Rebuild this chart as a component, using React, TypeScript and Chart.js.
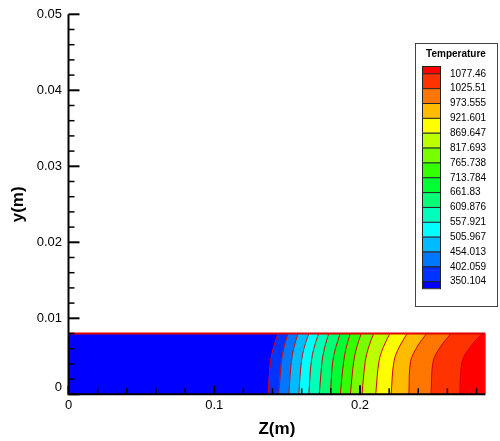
import React, { useEffect, useRef } from 'react';
import { Chart, registerables } from 'chart.js';

Chart.register(...registerables);

// ---------- data ----------
const levelLabels = ['350.104', '402.059', '454.013', '505.967', '557.921', '609.876', '661.83', '713.784', '765.738', '817.693', '869.647', '921.601', '973.555', '1025.51', '1077.46'];
const bandColors = ['#0000ff', '#0033ff', '#0077ff', '#00bbff', '#00ffff', '#00ffbb', '#00ff77', '#00ff33', '#33ff00', '#77ff00', '#bbff00', '#ffff00', '#ffbb00', '#ff7700', '#ff3300', '#ff0000'];
// heights (m) at which the isotherm positions were read
const sampleHeights = [0, 0.0043, 0.0062, 0.008];
// z position (m) of each isotherm (one per level) at each sample height
const zAtBottom = [0.1370, 0.1443, 0.1512, 0.1580, 0.1649, 0.1721, 0.1797, 0.1865, 0.1934, 0.2014, 0.2108, 0.2214, 0.2336, 0.2488, 0.2685];
const zAtLower = [0.1386, 0.1461, 0.1529, 0.1598, 0.1666, 0.1740, 0.1813, 0.1888, 0.1957, 0.2036, 0.2130, 0.2233, 0.2347, 0.2502, 0.2701];
const zAtUpper = [0.1407, 0.1479, 0.1547, 0.1618, 0.1686, 0.1758, 0.1834, 0.1906, 0.1978, 0.2059, 0.2160, 0.2269, 0.2391, 0.2551, 0.2756];
const zAtTop = [0.1438, 0.1507, 0.1575, 0.1649, 0.1717, 0.1786, 0.1865, 0.1934, 0.2009, 0.2094, 0.2205, 0.2324, 0.2457, 0.2625, 0.2838];
const stripHeight = 0.008;
const zMax = 0.286;
const yMax = 0.05;
const xTickValues = [0, 0.1, 0.2];
const xTickLabels = ['0', '0.1', '0.2'];
const yTickValues = [0, 0.01, 0.02, 0.03, 0.04, 0.05];
const yTickLabels = ['0', '0.01', '0.02', '0.03', '0.04', '0.05'];
const xMinorStep = 0.02;
const yMinorStep = 0.002;

const FONT = "'Liberation Sans', Arial, sans-serif";
const LINE_RED = '#d80000';

const zColumns = [zAtBottom, zAtLower, zAtUpper, zAtTop];

function traceForward(ctx: CanvasRenderingContext2D, pts: any[]) {
  ctx.lineTo(pts[0].x, pts[0].y);
  for (let k = 1; k < pts.length; k++) {
    const p = pts[k - 1];
    const c = pts[k];
    if (p.cp2x !== undefined && c.cp1x !== undefined) {
      ctx.bezierCurveTo(p.cp2x, p.cp2y, c.cp1x, c.cp1y, c.x, c.y);
    } else ctx.lineTo(c.x, c.y);
  }
}
function traceBackward(ctx: CanvasRenderingContext2D, pts: any[]) {
  const n = pts.length;
  ctx.lineTo(pts[n - 1].x, pts[n - 1].y);
  for (let k = n - 1; k > 0; k--) {
    const c = pts[k];
    const p = pts[k - 1];
    if (p.cp2x !== undefined && c.cp1x !== undefined) {
      ctx.bezierCurveTo(c.cp1x, c.cp1y, p.cp2x, p.cp2y, p.x, p.y);
    } else ctx.lineTo(p.x, p.y);
  }
}

const bandPlugin = {
  id: 'bands',
  beforeDatasetsDraw(chart: any) {
    const { ctx, chartArea } = chart;
    const xs = chart.scales.x;
    const ys = chart.scales.y;
    const lines: any[][] = [];
    for (let i = 0; i < levelLabels.length; i++) {
      const meta = chart.getDatasetMeta(i);
      if (meta.dataset && meta.dataset.updateControlPoints) meta.dataset.updateControlPoints(chartArea, meta.axis || 'x');
      lines.push(meta.data);
    }
    const x0 = xs.getPixelForValue(0);
    const x1 = xs.getPixelForValue(zMax);
    const yb = ys.getPixelForValue(0);
    const yt = ys.getPixelForValue(stripHeight);
    ctx.save();
    for (let j = 0; j < bandColors.length; j++) {
      ctx.beginPath();
      if (j === 0) {
        ctx.moveTo(x0, yb);
        ctx.lineTo(x0, yt);
        traceBackward(ctx, lines[0]);
      } else if (j === bandColors.length - 1) {
        const l = lines[j - 1];
        ctx.moveTo(l[0].x, l[0].y);
        traceForward(ctx, l);
        ctx.lineTo(x1, yt);
        ctx.lineTo(x1, yb);
      } else {
        const a = lines[j - 1];
        const b = lines[j];
        ctx.moveTo(a[0].x, a[0].y);
        traceForward(ctx, a);
        traceBackward(ctx, b);
      }
      ctx.closePath();
      ctx.fillStyle = bandColors[j];
      ctx.fill();
      ctx.strokeStyle = bandColors[j];
      ctx.lineWidth = 0.6;
      ctx.stroke();
    }
    ctx.restore();
  },
  afterDatasetsDraw(chart: any) {
    const { ctx } = chart;
    const xs = chart.scales.x;
    const ys = chart.scales.y;
    const ax = xs.getPixelForValue(0);
    const ay = ys.getPixelForValue(0);
    ctx.save();
    ctx.strokeStyle = '#000';
    ctx.lineCap = 'butt';
    // y ticks (inward)
    const nY = Math.round(yMax / yMinorStep);
    for (let k = 0; k <= nY; k++) {
      const v = k * yMinorStep;
      const major = yTickValues.some((t) => Math.abs(t - v) < 1e-9);
      const py = ys.getPixelForValue(v);
      ctx.lineWidth = major ? 2 : 1.5;
      ctx.beginPath();
      ctx.moveTo(ax, py);
      ctx.lineTo(ax + (major ? 11 : 6), py);
      ctx.stroke();
    }
    // x ticks (inward)
    const nX = Math.floor(zMax / xMinorStep + 1e-9);
    for (let k = 0; k <= nX; k++) {
      const v = k * xMinorStep;
      const major = xTickValues.some((t) => Math.abs(t - v) < 1e-9);
      const px = xs.getPixelForValue(v);
      ctx.lineWidth = major ? 2 : 1.5;
      ctx.beginPath();
      ctx.moveTo(px, ay);
      ctx.lineTo(px, ay - (major ? 9 : 6));
      ctx.stroke();
    }
    // axis lines
    ctx.lineWidth = 2;
    ctx.beginPath();
    ctx.moveTo(ax, ys.getPixelForValue(yMax));
    ctx.lineTo(ax, ay);
    ctx.lineTo(xs.getPixelForValue(zMax), ay);
    ctx.stroke();
    // y "0" label sits a little above the axis
    ctx.fillStyle = '#000';
    ctx.font = `13px ${FONT}`;
    ctx.textAlign = 'right';
    ctx.textBaseline = 'middle';
    ctx.fillText(yTickLabels[0], ax - 6.5, ay - 7);
    ctx.restore();
  },
  afterDraw(chart: any) {
    const { ctx } = chart;
    ctx.save();
    // legend box
    ctx.strokeStyle = '#444';
    ctx.lineWidth = 1;
    ctx.strokeRect(415.5, 43.5, 82, 263);
    ctx.fillStyle = '#000';
    ctx.font = `bold 10px ${FONT}`;
    ctx.textAlign = 'center';
    ctx.textBaseline = 'middle';
    ctx.fillText('Temperature', 456, 54);
    // swatches
    const sx = 422;
    const sw = 18;
    const top = 66;
    const firstH = 7.3;
    const step = 14.85;
    const n = bandColors.length;
    const boundaries: number[] = [];
    for (let k = 0; k < levelLabels.length; k++) boundaries.push(top + firstH + k * step);
    const bottom = boundaries[boundaries.length - 1] + 7;
    for (let j = 0; j < n; j++) {
      // j = 0 is top (highest band)
      const y0 = j === 0 ? top : boundaries[j - 1];
      const y1 = j === n - 1 ? bottom : boundaries[j];
      ctx.fillStyle = bandColors[n - 1 - j];
      ctx.fillRect(sx, y0, sw, y1 - y0);
      ctx.strokeStyle = '#222';
      ctx.strokeRect(sx + 0.5, y0 + 0.5, sw, y1 - y0);
    }
    ctx.fillStyle = '#000';
    ctx.font = `10px ${FONT}`;
    ctx.textAlign = 'left';
    ctx.textBaseline = 'middle';
    for (let k = 0; k < levelLabels.length; k++) {
      ctx.fillText(levelLabels[levelLabels.length - 1 - k], 450, boundaries[k] + 0.5);
    }
    ctx.restore();
  },
};

export default function App() {
  const ref = useRef<HTMLCanvasElement | null>(null);
  useEffect(() => {
    if (!ref.current) return;
    const datasets: any[] = levelLabels.map((lab, i) => ({
      label: lab,
      data: sampleHeights.map((h, k) => ({ x: zColumns[k][i], y: h })),
      showLine: true,
      borderColor: LINE_RED,
      borderWidth: 1,
      pointRadius: 0,
      tension: 0.35,
      fill: false,
    }));
    datasets.push({
      label: 'top',
      data: [{ x: 0, y: stripHeight }, { x: zMax, y: stripHeight }],
      showLine: true,
      borderColor: '#e00000',
      borderWidth: 2,
      pointRadius: 0,
      fill: false,
    });
    const chart = new Chart(ref.current, {
      type: 'scatter',
      data: { datasets },
      plugins: [bandPlugin as any],
      options: {
        responsive: false,
        animation: false,
        events: [],
        layout: { padding: { left: 0, top: 14.3, right: 14.7, bottom: 0 } },
        plugins: { legend: { display: false }, tooltip: { enabled: false } },
        scales: {
          x: {
            type: 'linear',
            min: 0,
            max: zMax,
            grid: { display: false, drawTicks: false },
            border: { display: false },
            afterBuildTicks: (s: any) => { s.ticks = xTickValues.map((v) => ({ value: v })); },
            afterFit: (s: any) => { s.height = 46.7; },
            ticks: {
              callback: (_v: any, i: number) => xTickLabels[i],
              font: { family: FONT, size: 13 },
              color: '#000',
              padding: 3,
              maxRotation: 0,
              autoSkip: false,
            },
            title: {
              display: true,
              text: 'Z(m)',
              font: { family: FONT, size: 17, weight: 'bold' },
              color: '#000',
              padding: { top: 0, bottom: 1 },
            },
          },
          y: {
            type: 'linear',
            min: 0,
            max: yMax,
            grid: { display: false, drawTicks: false },
            border: { display: false },
            afterBuildTicks: (s: any) => { s.ticks = yTickValues.map((v) => ({ value: v })); },
            afterFit: (s: any) => { s.width = 68.5; },
            ticks: {
              callback: (_v: any, i: number) => (i === 0 ? '' : yTickLabels[i]),
              font: { family: FONT, size: 13 },
              color: '#000',
              padding: 6.5,
              autoSkip: false,
            },
            title: {
              display: true,
              text: 'y(m)',
              font: { family: FONT, size: 17, weight: 'bold' },
              color: '#000',
              padding: { top: 8, bottom: 0 },
            },
          },
        },
      } as any,
    });
    return () => chart.destroy();
  }, []);
  return (
    <div style={{ position: 'absolute', left: 0, top: 0, width: 500, height: 441, background: '#fff' }}>
      <canvas ref={ref} width={500} height={441} style={{ display: 'block' }} />
    </div>
  );
}
